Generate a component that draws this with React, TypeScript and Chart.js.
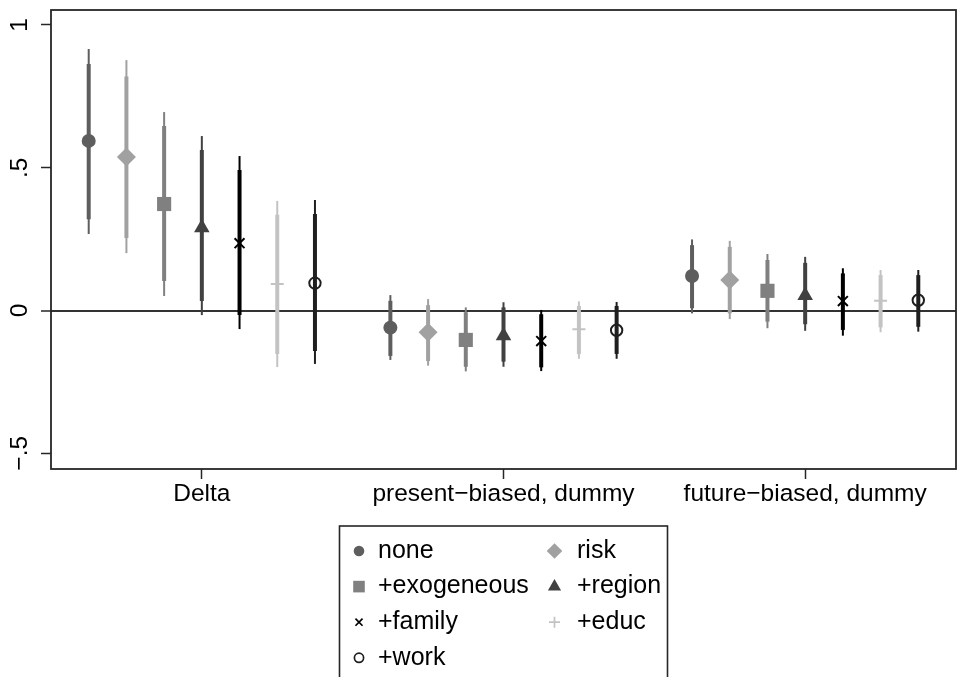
import React, { useEffect, useRef } from 'react';
import { Chart, registerables } from 'chart.js';
import { drawPoint } from 'chart.js/helpers';

Chart.register(...registerables);

// ---------------- data ----------------
const categories = ['Delta', 'present\u2212biased, dummy', 'future\u2212biased, dummy'];
const seriesNames = ['none', 'risk', '+exogeneous', '+region', '+family', '+educ', '+work'];

const yTickValues = [-0.5, 0, 0.5, 1];
const yTickLabels = ['\u2212.5', '0', '.5', '1'];

// point estimates, one value per series
const estDelta = [0.594, 0.538, 0.373, 0.29, 0.236, 0.093, 0.096];
const estPresent = [-0.06, -0.076, -0.103, -0.088, -0.107, -0.066, -0.069];
const estFuture = [0.121, 0.107, 0.069, 0.053, 0.033, 0.034, 0.036];

// inner (thick) intervals
const innerLoDelta = [0.32, 0.254, 0.103, 0.033, -0.016, -0.152, -0.142];
const innerHiDelta = [0.863, 0.82, 0.646, 0.562, 0.492, 0.335, 0.338];
const innerLoPresent = [-0.159, -0.177, -0.197, -0.179, -0.199, -0.152, -0.152];
const innerHiPresent = [0.034, 0.019, -0.006, 0.011, -0.013, 0.016, 0.016];
const innerLoFuture = [0.008, -0.01, -0.039, -0.048, -0.068, -0.059, -0.057];
const innerHiFuture = [0.229, 0.223, 0.177, 0.167, 0.13, 0.124, 0.124];

// outer (thin) intervals
const outerLoDelta = [0.268, 0.201, 0.051, -0.016, -0.065, -0.198, -0.187];
const outerHiDelta = [0.916, 0.877, 0.695, 0.611, 0.541, 0.384, 0.387];
const outerLoPresent = [-0.173, -0.193, -0.213, -0.197, -0.212, -0.169, -0.169];
const outerHiPresent = [0.054, 0.04, 0.011, 0.029, 0.002, 0.032, 0.03];
const outerLoFuture = [-0.01, -0.03, -0.062, -0.071, -0.088, -0.076, -0.074];
const outerHiFuture = [0.249, 0.244, 0.198, 0.188, 0.148, 0.142, 0.142];

const est = [estDelta, estPresent, estFuture];
const innerLo = [innerLoDelta, innerLoPresent, innerLoFuture];
const innerHi = [innerHiDelta, innerHiPresent, innerHiFuture];
const outerLo = [outerLoDelta, outerLoPresent, outerLoFuture];
const outerHi = [outerHiDelta, outerHiPresent, outerHiFuture];

// ---------------- styles ----------------
const FONT = "'Liberation Sans', Arial, Helvetica, sans-serif";
const colors = ['#5e5e5e', '#a1a1a1', '#808080', '#414141', '#000000', '#c3c3c3', '#1f1f1f'];
const pStyles = ['circle', 'rectRot', 'rect', 'triangle', 'crossRot', 'cross', 'circle'];
const pRadius = [7, 9.5, 10, 9, 7, 6.5, 5.7];
const pBorder = [0, 0, 0, 0, 2, 2, 2];
const pFill = [true, true, true, true, false, false, false];
const legRadius = [5.3, 7.8, 8.2, 7.6, 5, 5.5, 4.6];
const legBorder = [0, 0, 0, 0, 1.7, 1.7, 1.7];

const groupStep = 0.125;

function buildDatasets() {
  const ds: any[] = [];
  seriesNames.forEach((name, s) => {
    const xOf = (c: number) => c + 1 + (s - 3) * groupStep;
    ds.push({
      type: 'bar',
      label: name + ' outer',
      data: categories.map((_, c) => ({ x: xOf(c), y: [outerLo[c][s], outerHi[c][s]] })),
      backgroundColor: colors[s],
      borderWidth: 0,
      grouped: false,
      maxBarThickness: 2,
      order: 3,
    });
    ds.push({
      type: 'bar',
      label: name + ' inner',
      data: categories.map((_, c) => ({ x: xOf(c), y: [innerLo[c][s], innerHi[c][s]] })),
      backgroundColor: colors[s],
      borderWidth: 0,
      grouped: false,
      maxBarThickness: 4,
      order: 2,
    });
    ds.push({
      type: 'scatter',
      label: name,
      data: categories.map((_, c) => ({ x: xOf(c), y: est[c][s] })),
      pointStyle: pStyles[s],
      pointRadius: pRadius[s],
      pointHoverRadius: pRadius[s],
      pointBackgroundColor: pFill[s] ? colors[s] : 'rgba(0,0,0,0)',
      pointBorderColor: colors[s],
      pointBorderWidth: pBorder[s],
      showLine: false,
      order: 1,
    });
  });
  return ds;
}

const framePlugin = {
  id: 'frame',
  afterDraw(chart: any) {
    const { ctx, chartArea } = chart;
    ctx.save();
    ctx.strokeStyle = '#262626';
    ctx.lineWidth = 1.8;
    ctx.strokeRect(chartArea.left, chartArea.top, chartArea.right - chartArea.left, chartArea.bottom - chartArea.top);
    ctx.restore();
  },
};

const legendPlugin = {
  id: 'boxLegend',
  afterDraw(chart: any) {
    const { ctx, chartArea } = chart;
    const cx = (chartArea.left + chartArea.right) / 2;
    const w = 328;
    const left = cx - w / 2;
    const top = chartArea.bottom + 57;
    ctx.save();
    ctx.strokeStyle = '#262626';
    ctx.lineWidth = 1.6;
    ctx.strokeRect(left, top, w, chart.height - top + 20);
    ctx.font = `25px ${FONT}`;
    ctx.textBaseline = 'middle';
    ctx.textAlign = 'left';
    seriesNames.forEach((name, s) => {
      const row = Math.floor(s / 2);
      const col = s % 2;
      const y = top + 25 + row * 35.6;
      const mx = left + (col === 0 ? 19.5 : 215);
      const tx = left + (col === 0 ? 38.5 : 237.5);
      ctx.fillStyle = pFill[s] ? colors[s] : 'rgba(0,0,0,0)';
      ctx.strokeStyle = colors[s];
      ctx.lineWidth = legBorder[s];
      drawPoint(ctx, { pointStyle: pStyles[s], radius: legRadius[s], rotation: 0, borderWidth: legBorder[s] } as any, mx, y);
      ctx.fillStyle = '#000';
      ctx.fillText(name, tx, y);
    });
    ctx.restore();
  },
};

export default function App() {
  const ref = useRef<HTMLCanvasElement>(null);
  useEffect(() => {
    if (!ref.current) return;
    const chart = new Chart(ref.current, {
      type: 'scatter',
      data: { datasets: buildDatasets() },
      options: {
        animation: false,
        responsive: false,
        layout: { autoPadding: false, padding: { left: 0, right: 3, top: 10, bottom: 158 } },
        plugins: { legend: { display: false }, tooltip: { enabled: false } },
        scales: {
          x: {
            type: 'linear',
            min: 0.5,
            max: 3.5,
            offset: false,
            afterBuildTicks: (s: any) => {
              s.ticks = categories.map((_, i) => ({ value: i + 1 }));
            },
            afterFit: (s: any) => {
              s.height = 50;
              s.paddingLeft = 0;
              s.paddingRight = 0;
            },
            ticks: {
              autoSkip: false,
              maxRotation: 0,
              minRotation: 0,
              padding: 1,
              color: '#000',
              font: { family: FONT, size: 24.5 },
              callback: (v: any) => categories[Math.round(Number(v)) - 1] ?? '',
            },
            grid: { offset: false, drawOnChartArea: false, drawTicks: true, tickLength: 10, tickColor: '#262626', tickWidth: 1.5 },
            border: { display: false },
          },
          y: {
            type: 'linear',
            min: -0.555,
            max: 1.0525,
            beginAtZero: false,
            afterBuildTicks: (s: any) => {
              s.ticks = yTickValues.map((v) => ({ value: v }));
            },
            afterFit: (s: any) => {
              s.width = 51;
              s.paddingTop = 0;
              s.paddingBottom = 0;
            },
            ticks: {
              minRotation: 90,
              maxRotation: 90,
              crossAlign: 'center',
              padding: 3,
              color: '#000',
              font: { family: FONT, size: 24.5 },
              callback: (v: any) => {
                const i = yTickValues.findIndex((t) => Math.abs(t - Number(v)) < 1e-9);
                return i >= 0 ? yTickLabels[i] : '';
              },
            },
            grid: {
              offset: false,
              drawOnChartArea: true,
              drawTicks: true,
              tickLength: 10,
              tickColor: '#262626',
              tickWidth: 1.5,
              color: (ctx: any) => (ctx.tick && ctx.tick.value === 0 ? '#333333' : 'rgba(0,0,0,0)'),
              lineWidth: (ctx: any) => (ctx.tick && ctx.tick.value === 0 ? 2 : 1),
            },
            border: { display: false },
          },
        },
      } as any,
      plugins: [framePlugin, legendPlugin],
    });
    return () => chart.destroy();
  }, []);
  return (
    <div style={{ position: 'fixed', left: 0, top: 0, width: 959, height: 677, background: '#fff', overflow: 'hidden' }}>
      <canvas ref={ref} width={959} height={677} style={{ display: 'block' }} />
    </div>
  );
}
